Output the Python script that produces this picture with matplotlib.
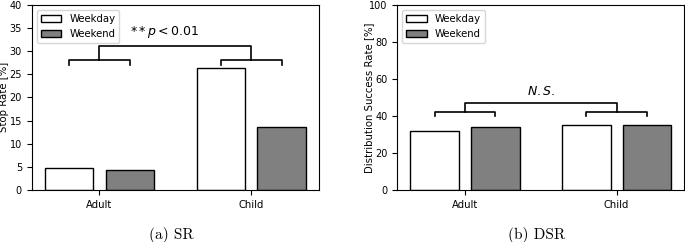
import numpy as np
import matplotlib
matplotlib.use('Agg')
import matplotlib.pyplot as plt

groups = ['Adult', 'Child']
series = ['Weekday', 'Weekend']

sr_weekday = [4.8, 26.3]
sr_weekend = [4.4, 13.6]

dsr_weekday = [32.0, 35.1]
dsr_weekend = [34.2, 34.9]

colors = ['white', 'gray']


def draw_bracket(ax, x, low, tick, top):
    """
        Two small brackets over each group joined by a bigger one.
    """
    off = 0.2
    for cx in x:
        ax.plot([cx - off, cx - off, cx + off, cx + off], [low - tick, low, low, low - tick],
                color='black', lw=1.2)
    ax.plot([x[0], x[0], x[1], x[1]], [low, top, top, low], color='black', lw=1.2)


def draw_bars(ax, weekday, weekend, ylim, ylabel, label_x):
    x = np.arange(len(groups))
    width = 0.32
    ax.bar(x - 0.2, weekday, width=width, color=colors[0], edgecolor='black',
           linewidth=1.0, label=series[0])
    ax.bar(x + 0.2, weekend, width=width, color=colors[1], edgecolor='black',
           linewidth=1.0, label=series[1])
    ax.set_xticks(x)
    ax.set_xticklabels(groups, fontsize=7.2)
    ax.set_ylim(0, ylim)
    ax.tick_params(axis='y', labelsize=7.0)
    ax.set_ylabel(ylabel, fontsize=7.3)
    # label anchor is its right edge after rotation
    ax.yaxis.set_label_coords(label_x, 0.5)
    ax.legend(loc='upper left', fontsize=7.3)
    return x


fig = plt.figure(figsize=(6.85, 2.42), dpi=100)
ax1 = fig.add_axes([0.0463, 0.2149, 0.4194, 0.7657])
ax2 = fig.add_axes([0.58, 0.2149, 0.419, 0.7657])

x = draw_bars(ax1, sr_weekday, sr_weekend, 40, 'Stop Rate [%]', -0.078)
draw_bracket(ax1, x, 28.0, 1.1, 31.0)
ax1.text(0.43, 34.2, r'$**p<0.01$', ha='center', va='center', fontsize=9)

x = draw_bars(ax2, dsr_weekday, dsr_weekend, 100, 'Distribution Success Rate [%]', -0.081)
draw_bracket(ax2, x, 42.0, 2.3, 47.0)
ax2.text(0.5, 53.4, r'$N.S.$', ha='center', va='center', fontsize=9)

fig.text(171 / 685., 1 - 235 / 242., '(a) SR', ha='center', va='center',
         fontsize=11, family='cmr10')
fig.text(537 / 685., 1 - 235 / 242., '(b) DSR', ha='center', va='center',
         fontsize=11, family='cmr10')

fig.savefig('out.png', dpi=100)
